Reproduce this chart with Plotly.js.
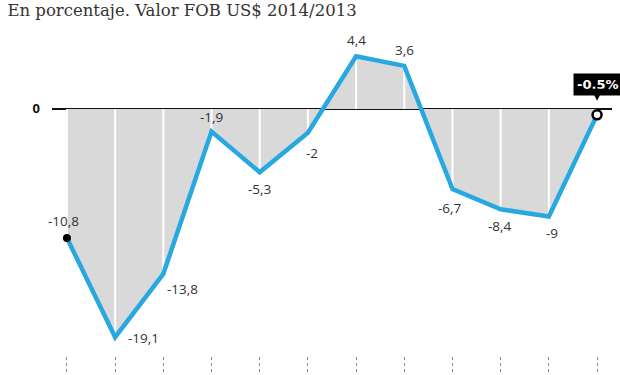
<!DOCTYPE html>
<html>
<head>
<meta charset="utf-8">
<script src="https://cdn.plot.ly/plotly-3.0.1.min.js"></script>
<style>html,body{margin:0;padding:0;background:#fff}#chart{width:620px;height:375px}</style>
</head>
<body>
<div id="chart"></div>
<script>
// Data
var months = ['Ene', 'Feb', 'Mar', 'Abr', 'May', 'Jun', 'Jul', 'Ago', 'Sep', 'Oct', 'Nov', 'Dic'];
var values = [-10.8, -19.1, -13.8, -1.9, -5.3, -2, 4.4, 3.6, -6.7, -8.4, -9, -0.5];

// label placement (style only): anchors and pixel shifts
var labAnchorX = ['center', 'left', 'left', 'center', 'center', 'center', 'center', 'center', 'center', 'center', 'center'];
var labAnchorY = ['bottom', 'middle', 'middle', 'bottom', 'top', 'top', 'bottom', 'bottom', 'top', 'top', 'top'];
var labShiftX = [-3, 11, 2, 0, 0, 4, 0, 0, -2, -1, 3];
var labShiftY = [6, -1, -15, 4, -6, -9, 5, 5, -8, -6, -6];

var xs = months.map(function (m, i) { return i; });
var fmt = function (v) { return String(v).replace('.', ','); };

// white separators from zero to each value
var sepX = [], sepY = [];
xs.forEach(function (x, i) { sepX.push(x, x, null); sepY.push(0, values[i], null); });

var blue = '#27a8e0';
var traces = [
  { x: xs, y: values, type: 'scatter', mode: 'lines', fill: 'tozeroy', fillcolor: '#d9d9d9',
    line: { width: 0, color: 'rgba(0,0,0,0)' }, hoverinfo: 'skip' },
  { x: sepX, y: sepY, type: 'scatter', mode: 'lines', line: { color: '#ffffff', width: 2 }, hoverinfo: 'skip' },
  { x: xs, y: values, type: 'scatter', mode: 'lines',
    line: { color: blue, width: 4.5 }, cliponaxis: false },
  { x: [xs[0]], y: [values[0]], type: 'scatter', mode: 'markers',
    marker: { color: '#000', size: 8 }, cliponaxis: false },
  { x: [xs[xs.length - 1]], y: [values[values.length - 1]], type: 'scatter', mode: 'markers',
    marker: { color: '#fff', size: 9, line: { color: '#000', width: 2.5 } }, cliponaxis: false },
  { x: xs, y: xs.map(function () { return 0; }), xaxis: 'x2', yaxis: 'y2', type: 'scatter', mode: 'markers',
    marker: { opacity: 0 }, hoverinfo: 'skip' }
];

var annotations = [];
for (var i = 0; i < values.length - 1; i++) {
  annotations.push({
    x: xs[i], y: values[i], xref: 'x', yref: 'y', text: fmt(values[i]), showarrow: false,
    xanchor: labAnchorX[i], yanchor: labAnchorY[i], xshift: labShiftX[i], yshift: labShiftY[i],
    font: { family: 'Open Sans, sans-serif', size: 13.5, color: '#333' }
  });
}
annotations.push({
  x: xs[xs.length - 1], y: values[values.length - 1], xref: 'x', yref: 'y',
  text: '<b>' + fmt(values[values.length - 1]) + '%</b>',
  font: { family: 'DejaVu Sans, sans-serif', size: 13, color: '#fff' },
  bgcolor: '#000', borderpad: 3,
  showarrow: true, arrowhead: 2, arrowsize: 1.2, arrowwidth: 2, arrowcolor: '#000',
  ax: 0, ay: -30, standoff: 14
});

var layout = {
  width: 620, height: 375,
  margin: { l: 52, r: 8, t: 30, b: 0 },
  paper_bgcolor: '#fff', plot_bgcolor: '#fff',
  separators: ',.',
  showlegend: false,
  title: { text: 'En porcentaje. Valor FOB US$ 2014/2013', x: 0.012, xanchor: 'left',
           yref: 'container', y: 0.972, yanchor: 'middle',
           font: { family: 'DejaVu Serif, serif', size: 16.5, color: '#333' } },
  xaxis: { range: [-0.31, 11.31], showgrid: false, zeroline: false, showticklabels: false, ticks: '',
           showline: false, anchor: 'y' },
  yaxis: { domain: [0.075, 1], range: [-20.1, 6.6], showgrid: false, zeroline: true,
           zerolinecolor: '#111', zerolinewidth: 2, tickvals: [0], ticktext: ['<b>0</b>'],
           tickfont: { family: 'Open Sans, sans-serif', size: 13, color: '#111' }, ticks: '', ticklabelstandoff: 11 },
  xaxis2: { range: [-0.31, 11.31], anchor: 'y2', tickvals: xs, showgrid: true, griddash: 'dot',
            gridcolor: '#888', gridwidth: 1, zeroline: false, showticklabels: false, ticks: '', showline: false },
  yaxis2: { domain: [0, 0.053], range: [0, 1], showgrid: false, zeroline: false, showticklabels: false, ticks: '' },
  annotations: annotations
};

Plotly.newPlot('chart', traces, layout, { displayModeBar: false, staticPlot: true });
</script>
</body>
</html>
